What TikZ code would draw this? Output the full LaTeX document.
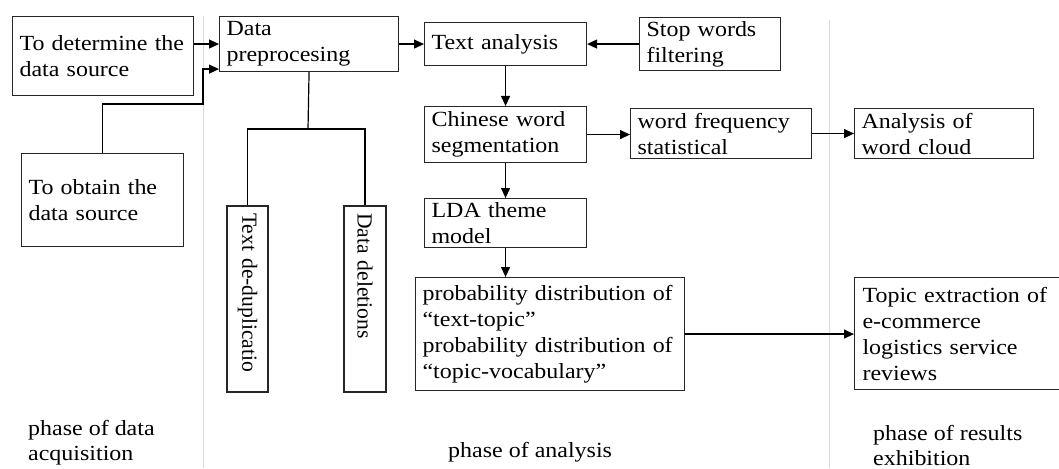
\documentclass[tikz,border=0pt]{standalone}
\usepackage{fontspec}
\setmainfont{Liberation Serif}[FakeStretch=1.11]
\newfontfamily\rotfont{Liberation Serif}
\usetikzlibrary{arrows.meta}
\begin{document}
\begin{tikzpicture}[x=1pt,y=-1pt,
  box/.style={draw=black!85, line width=1.1pt, anchor=north west, inner xsep=7pt, inner ysep=0pt, align=left, font=\fontsize{21.6}{26}\selectfont, text=black},
  vbox/.style={draw=black!85, line width=1.1pt, rotate=-90, inner xsep=7pt, inner ysep=0pt, align=left, font=\rotfont\fontsize{21.6}{26}\selectfont, text=black},
  conn/.style={line width=1.2pt, black},
  arr/.style={conn, -{Triangle[length=10pt,width=9pt]}},
  divider/.style={draw=black!15, line width=1pt},
  phase/.style={anchor=west, inner sep=0pt, align=left, font=\fontsize{21.6}{25}\selectfont, text=black}
]
\useasboundingbox (0,0) rectangle (1059,468);

% phase dividers
\draw[divider] (203,16) -- (203,468);
\draw[divider] (829,20) -- (829,468);

% boxes
\node[box, minimum width=181pt, minimum height=79pt, text width=167pt] (det) at (12,16) {To determine the\\data source};
\node[box, minimum width=162pt, minimum height=93pt, text width=148pt] (obt) at (21,153) {To obtain the\\data source};
\node[box, minimum width=179pt, minimum height=55pt, text width=165pt] (pre) at (219,16) {Data\\preprocesing};
\node[vbox, minimum width=186pt, minimum height=41pt, text width=172pt] (dedup) at (247.5,299) {Text de-duplicatio};
\node[vbox, minimum width=186pt, minimum height=42pt, text width=172pt] (del) at (365,299) {Data deletions};
\node[box, minimum width=162pt, minimum height=43pt, text width=148pt] (ta) at (424,22) {Text analysis};
\node[box, minimum width=141pt, minimum height=53pt, text width=127pt] (stop) at (639,17) {Stop words\\filtering};
\node[box, minimum width=162pt, minimum height=56pt, text width=148pt] (cws) at (424,106) {Chinese word\\segmentation};
\node[box, minimum width=181pt, minimum height=50pt, text width=167pt] (wf) at (630,108) {word frequency\\statistical};
\node[box, minimum width=162pt, minimum height=49pt, text width=148pt] (lda) at (424,198) {LDA theme\\model};
\node[box, minimum width=269pt, minimum height=113pt, text width=255pt] (prob) at (415,277) {probability distribution of\\“text-topic”\\probability distribution of\\“topic-vocabulary”};
\node[box, minimum width=179pt, minimum height=50pt, text width=165pt] (awc) at (854,108) {Analysis of\\word cloud};
\node[box, minimum width=213pt, minimum height=112pt, text width=197pt, inner xsep=8pt] (topic) at (854,277) {Topic extraction of\\e-commerce\\logistics service\\reviews};

% phase labels
\node[phase] (ph1) at (28,442.5) {phase of data\\acquisition};
\node[phase] (ph2) at (448,452) {phase of analysis};
\node[phase] (ph3) at (873,445) {phase of results\\exhibition};

% connectors
\coordinate (bend) at (203,104);
\coordinate (split) at (308,129);
\draw[arr] (det.east |- pre.west) -- (pre.west);
\draw[arr] (obt.north) |- (bend) |- ([yshift=3pt]pre.south west);
\draw[conn] (pre.south) -- (split);
\draw[conn] (dedup.west) |- (split) -| (del.west);
\draw[arr] (pre.east) -- (ta.west);
\draw[arr] (stop.west) -- (ta.east);
\draw[arr] (ta.south) -- (cws.north);
\draw[arr] (cws.east) -- (cws.east -| wf.west);
\draw[arr] (wf.east) -- (wf.east -| awc.west);
\draw[arr] (cws.south) -- (lda.north);
\draw[arr] (lda.south) -- (lda.south |- prob.north);
\draw[arr] (prob.east) -- (prob.east -| topic.west);
\end{tikzpicture}
\end{document}
